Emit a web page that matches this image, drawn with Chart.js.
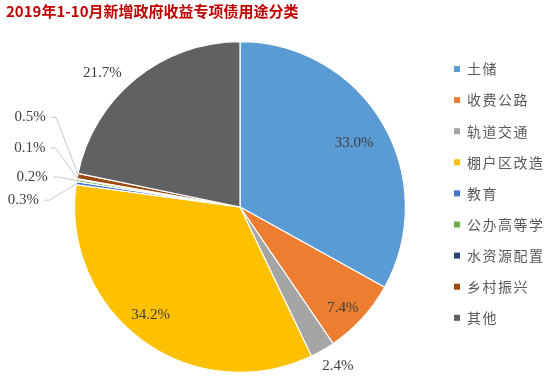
<!DOCTYPE html>
<html>
<head>
<meta charset="utf-8">
<script src="https://cdn.jsdelivr.net/npm/chart.js@4.4.0/dist/chart.umd.min.js"></script>
<style>
  html, body { margin: 0; padding: 0; background: #fff; }
  #wrap { width: 550px; height: 378px; position: relative; }
</style>
</head>
<body>
<div id="wrap"><canvas id="pieChart" width="550" height="378"></canvas></div>
<script>
// 2019年1-10月新增政府收益专项债用途分类
const categorias = ['土储', '收费公路', '轨道交通', '棚户区改造', '教育', '公办高等学', '水资源配置', '乡村振兴', '其他'];
const percentuais = [33.0, 7.4, 2.4, 34.2, 0.3, 0.2, 0.1, 0.5, 21.7];
const rotulos = ['33.0%', '7.4%', '2.4%', '34.2%', '0.3%', '0.2%', '0.1%', '0.5%', '21.7%'];
const cores = ['#5B9BD5', '#ED7D31', '#A5A5A5', '#FFC000', '#4472C4', '#70AD47', '#264478', '#9E480E', '#616062'];

// onde cada rotulo fica: [fator do raio, desvio do angulo em graus, com linha guia?]
const posRotulo = [
    [0.79, 1.4, false],
    [0.87, 2, false],
    [1.13, -1.6, false],
    [0.85, 3.4, false],
    [1.31, -6.5, true],   // 0.3%
    [1.27, -1.0, true],   // 0.2%
    [1.32, 5.9, true],    // 0.1%
    [1.38, 12.3, true],   // 0.5%
    [1.16, -6.7, false]
];

const plugin = {
    id: 'extras',
    afterDraw(chart) {
        const ctx = chart.ctx;
        const meta = chart.getDatasetMeta(0);
        ctx.save();

        // titulo
        ctx.fillStyle = '#C00000';
        ctx.font = 'bold 15px "Noto Sans CJK SC"';
        ctx.textBaseline = 'middle';
        ctx.textAlign = 'left';
        ctx.fillText('2019年1-10月新增政府收益专项债用途分类', 6, 11);

        // rotulos
        ctx.font = '15px "Liberation Serif"';
        ctx.fillStyle = '#404040';
        ctx.textAlign = 'center';
        for (let i = 0; i < meta.data.length; i++) {
            const arc = meta.data[i];
            const p = arc.getProps(['x', 'y', 'startAngle', 'endAngle', 'outerRadius'], true);
            const meio = (p.startAngle + p.endAngle) / 2;
            const ang = meio + posRotulo[i][1] * Math.PI / 180;
            const d = p.outerRadius * posRotulo[i][0];
            const tx = p.x + Math.cos(ang) * d;
            const ty = p.y + Math.sin(ang) * d;
            if (posRotulo[i][2]) {
                const ex = p.x + Math.cos(meio) * (p.outerRadius - 1);
                const ey = p.y + Math.sin(meio) * (p.outerRadius - 1);
                ctx.strokeStyle = '#b8b8c8';
                ctx.lineWidth = 0.8;
                ctx.beginPath();
                ctx.moveTo(tx + 21, ty);
                ctx.lineTo(tx + 26, ty);
                ctx.lineTo(ex, ey);
                ctx.stroke();
            }
            ctx.fillText(rotulos[i], tx, ty);
        }

        // legenda
        ctx.textAlign = 'left';
        ctx.font = '14px "Noto Sans CJK SC"';
        for (let i = 0; i < categorias.length; i++) {
            const y = 69 + i * 31.1;
            ctx.fillStyle = cores[i];
            ctx.fillRect(454, y - 3, 6, 6);
            ctx.fillStyle = '#595959';
            const chars = Array.from(categorias[i]);
            for (let c = 0; c < chars.length; c++) {
                ctx.fillText(chars[c], 467 + c * 15.5, y);
            }
        }
        ctx.restore();
    }
};

const config = {
    type: 'pie',
    data: {
        labels: categorias,
        datasets: [{
            data: percentuais,
            backgroundColor: cores,
            borderColor: '#ffffff',
            borderWidth: 1.2
        }]
    },
    options: {
        responsive: false,
        animation: false,
        layout: { padding: { top: 41, bottom: 5, left: 74, right: 144 } },
        plugins: {
            legend: { display: false },
            tooltip: { enabled: false }
        }
    },
    plugins: [plugin]
};

var ctx = document.getElementById('pieChart').getContext('2d');
let myChart = new Chart(ctx, config);
</script>
</body>
</html>
